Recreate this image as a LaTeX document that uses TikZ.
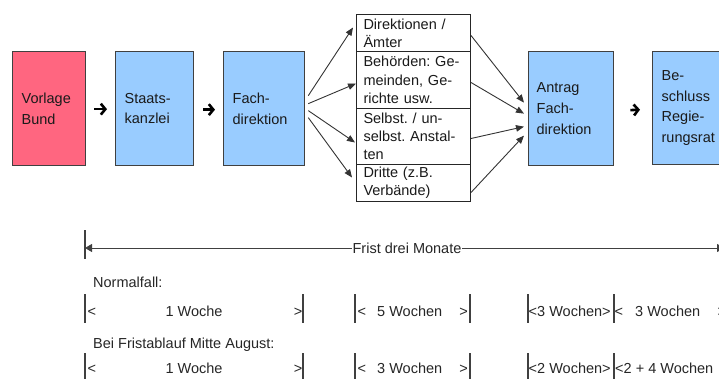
\documentclass[tikz,border=0pt]{standalone}
\usepackage{fontspec}
\setmainfont{Liberation Sans}
\usetikzlibrary{arrows.meta,calc}
\definecolor{pinkbox}{HTML}{FF6680}
\definecolor{bluebox}{HTML}{99CCFF}
\definecolor{edge}{HTML}{404040}
\definecolor{txt}{HTML}{1A1A1A}
\definecolor{lowtxt}{HTML}{262626}
\begin{document}
\frenchspacing
\begin{tikzpicture}[x=1pt,y=-1pt,
  mainbox/.style={rectangle, draw=edge, line width=1.3pt, anchor=north west,
    inner xsep=9pt, inner ysep=0pt, align=left, text=txt,
    font=\fontsize{14.5}{20.7}\selectfont\frenchspacing, minimum height=114pt},
  midbox/.style={rectangle, draw=black!85, line width=1pt, anchor=north west,
    inner xsep=7pt, inner ysep=0pt, align=left, text=txt, fill=white,
    font=\fontsize{14.5}{18.3}\selectfont\frenchspacing, minimum width=114pt, text width=100pt},
  conn/.style={draw=black!80, line width=0.9pt, -{Triangle[length=8pt,width=6.5pt]}},
  fat/.style={draw=black, line width=2.6pt, -{Straight Barb[length=4.5pt,width=11pt]}},
  tline/.style={draw=black!75, line width=1pt},
  bar/.style={draw=edge, line width=1.1pt},
  lbl/.style={inner sep=0pt, text=lowtxt, font=\fontsize{14.5}{17}\selectfont\frenchspacing},
]
\useasboundingbox (0,0) rectangle (719,379);

% main boxes
\node[mainbox, fill=pinkbox, minimum width=73pt, text width=55pt] (vb) at (12,51) {Vorlage\\Bund};
\node[mainbox, fill=bluebox, minimum width=78pt, text width=60pt] (sk) at (115,51) {Staats-\\kanzlei};
\node[mainbox, fill=bluebox, minimum width=81pt, text width=63pt] (fd) at (223,51) {Fach-\\direktion};
\node[mainbox, fill=bluebox, minimum width=85pt, text width=69pt, inner xsep=8pt] (at) at (528,51) {Antrag\\Fach-\\direktion};
\node[mainbox, fill=bluebox, minimum width=90pt, text width=72pt, minimum height=113pt] (bs) at (652,51) {Be-\\schluss\\Regie-\\rungsrat};

% middle column
\node[midbox, minimum height=37pt] (m1) at (356,14) {Direktionen /\\Ämter};
\node[midbox, minimum height=57pt] (m2) at (356,51) {Behörden: Ge-\\meinden, Ge-\\richte usw.};
\node[midbox, minimum height=56pt] (m3) at (356,108) {Selbst. / un-\\selbst. Anstal-\\ten};
\node[midbox, minimum height=37pt] (m4) at (356,164) {Dritte (z.B.\\Verbände)};

% bold arrows
\draw[fat] ([shift={(8,0.5)}]vb.east) -- ([shift={(-8,0.5)}]sk.west);
\draw[fat] ([shift={(9,1)}]sk.east) -- ([shift={(-8,1)}]fd.west);
\draw[fat] ([shift={(16,1.5)}]at.east) -- ([shift={(-12,1.5)}]bs.west);

% fan out
\draw[conn] ([shift={(3,-13)}]fd.east) -- ([shift={(-3,-5.5)}]m1.west);
\draw[conn] ([shift={(3,-5)}]fd.east) -- ([shift={(0,3.5)}]m2.west);
\draw[conn] ([shift={(3,2)}]fd.east) -- ([shift={(-1,6)}]m3.west);
\draw[conn] ([shift={(3,9)}]fd.east) -- ([shift={(-4,-5.5)}]m4.west);

% fan in
\draw[conn] ([shift={(0,2.5)}]m1.east) -- ([shift={(-4,-6)}]at.west);
\draw[conn] ([shift={(0,2.5)}]m2.east) -- ([shift={(-4,5)}]at.west);
\draw[conn] ([shift={(0,2)}]m3.east) -- ([shift={(-4,18)}]at.west);
\draw[conn] ([shift={(0,9.5)}]m4.east) -- ([shift={(-4,27)}]at.west);

% time line
\coordinate (tbt) at (85,230);
\coordinate (tbb) at (85,259);
\coordinate (tl) at (85,248);
\coordinate (tr) at (724,248);
\draw[bar] (tbt) -- (tbb);
\draw[tline, {Triangle[length=7pt,width=8pt]}-{Triangle[length=7pt,width=8pt]}] (tl) -- (tr);
\node[lbl, fill=white, inner xsep=1pt, inner ysep=1pt, anchor=base] (frist) at (407,253) {Frist drei Monate};

% labels
\node[lbl, anchor=base west] (nf) at (93,287) {Normalfall:};
\node[lbl, anchor=base west] (bf) at (93,348) {Bei Fristablauf Mitte August:};

% bars
\foreach \bx [count=\i] in {85,303,355,470,528,614} {
  \coordinate (ra\i) at (\bx,294);
  \coordinate (rb\i) at (\bx,323);
  \coordinate (sa\i) at (\bx,353);
  \coordinate (sb\i) at (\bx,384);
  \draw[bar] (ra\i) -- (rb\i);
  \draw[bar] (sa\i) -- (sb\i);
}

% row 1
\node[lbl, anchor=base west] (r1a) at (87.5,316) {<};
\node[lbl, anchor=base] (r1b) at (194,316) {1 Woche};
\node[lbl, anchor=base east] (r1c) at (302.5,316) {>};
\node[lbl, anchor=base west] (r1d) at (357.5,316) {<};
\node[lbl, anchor=base west] (r1e) at (377,316) {5 Wochen};
\node[lbl, anchor=base east] (r1f) at (468,316) {>};
\node[lbl, anchor=base west] (r1g) at (528.5,316) {<3 Wochen>};
\node[lbl, anchor=base west] (r1h) at (614.5,316) {<};
\node[lbl, anchor=base west] (r1i) at (635,316) {3 Wochen};
\node[lbl, anchor=base west] (r1j) at (717.5,316) {>};

% row 2
\node[lbl, anchor=base west] (r2a) at (87.5,373.5) {<};
\node[lbl, anchor=base] (r2b) at (194,373.5) {1 Woche};
\node[lbl, anchor=base east] (r2c) at (302.5,373.5) {>};
\node[lbl, anchor=base west] (r2d) at (357.5,373.5) {<};
\node[lbl, anchor=base west] (r2e) at (377,373.5) {3 Wochen};
\node[lbl, anchor=base east] (r2f) at (468,373.5) {>};
\node[lbl, anchor=base west] (r2g) at (528.5,373.5) {<2 Wochen>};
\node[lbl, anchor=base west] (r2h) at (615,373.5) {<2 + 4 Wochen};
\end{tikzpicture}
\end{document}
